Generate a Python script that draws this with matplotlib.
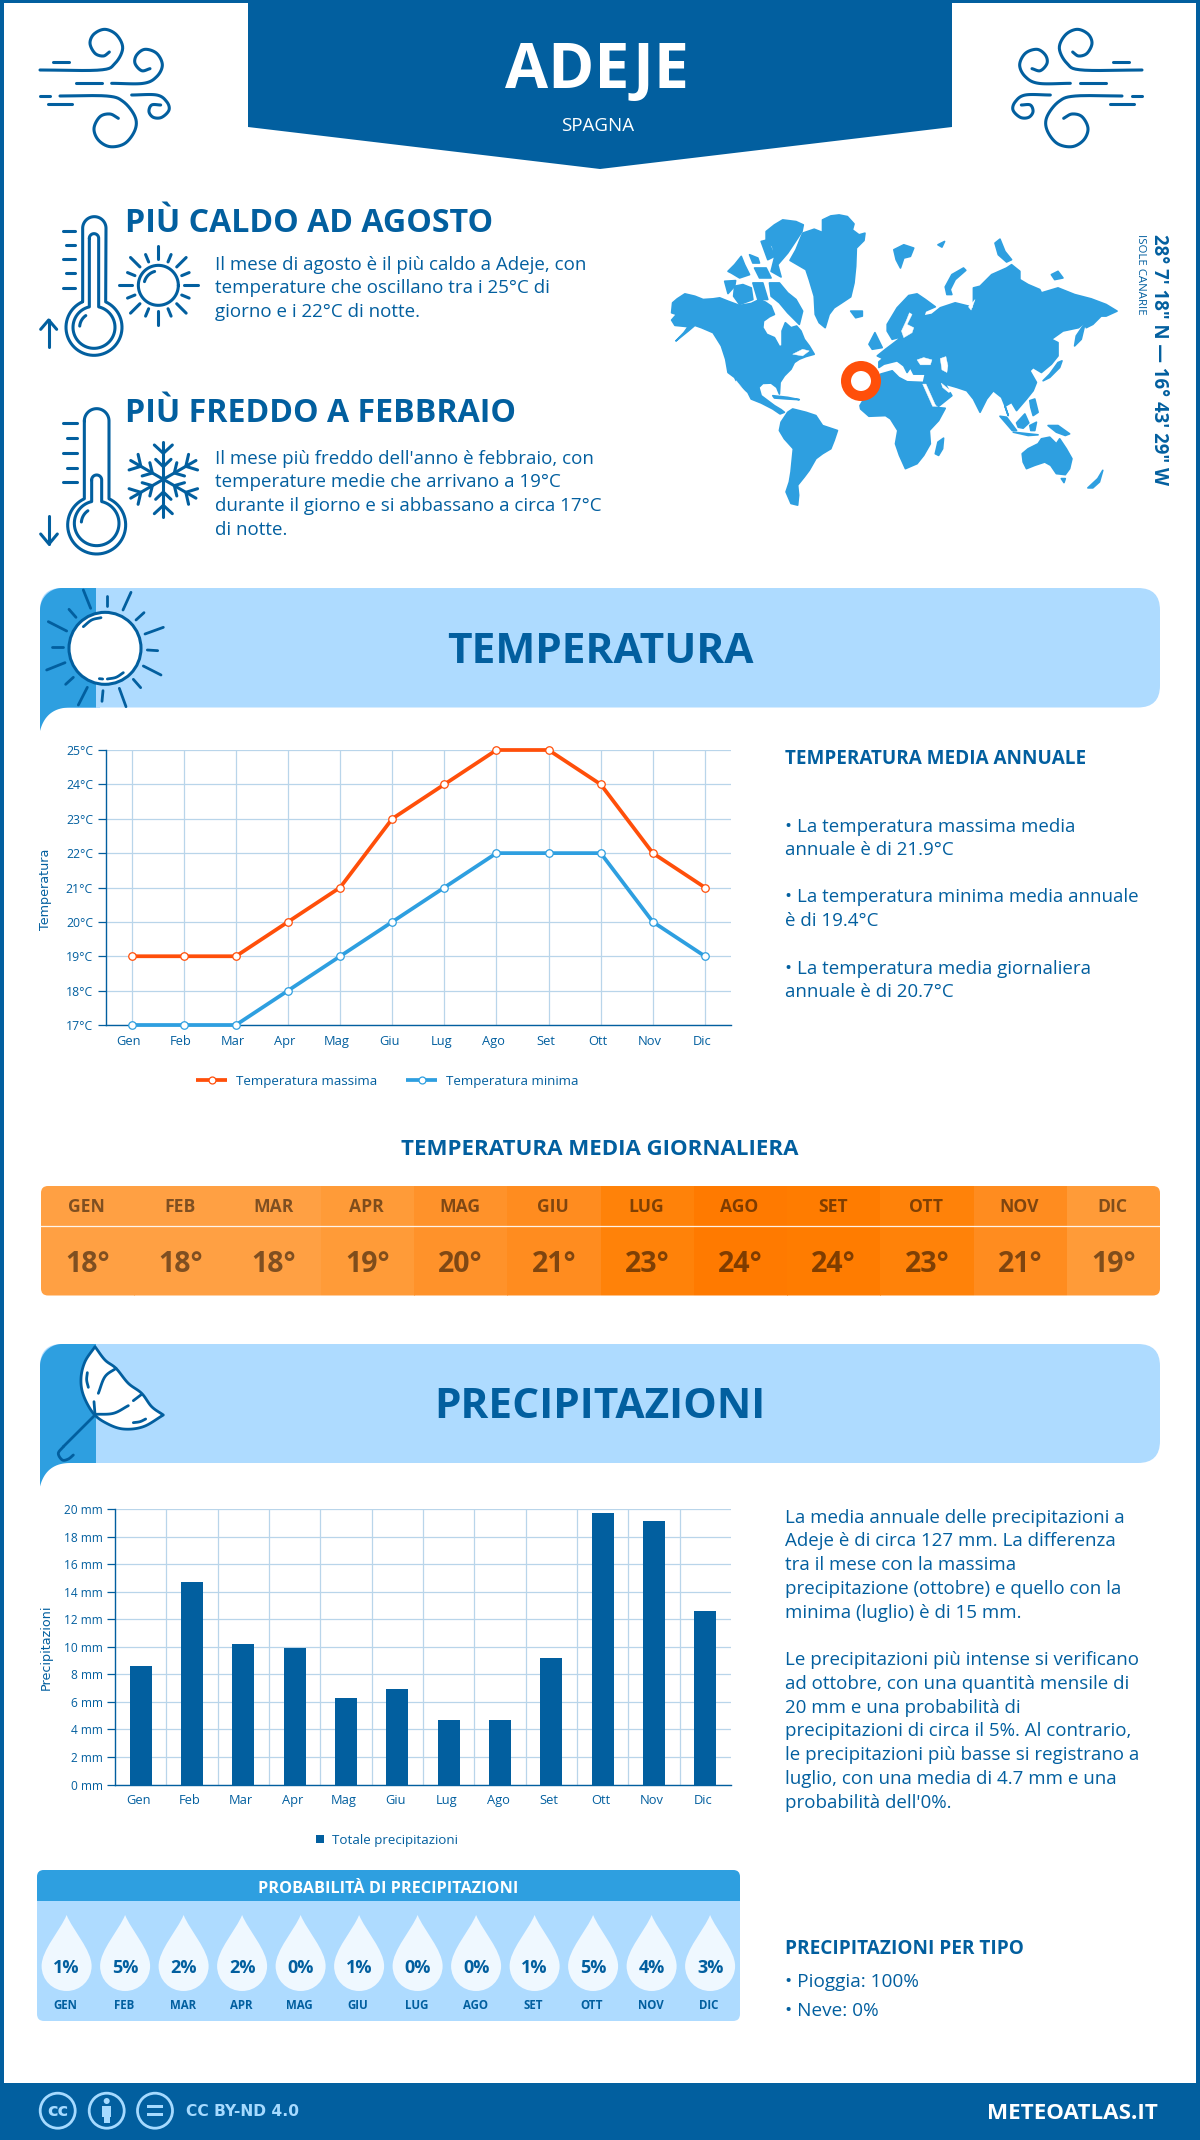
import numpy as np
import matplotlib
matplotlib.use("Agg")
import matplotlib.pyplot as plt
from matplotlib.patches import Polygon, Circle, Rectangle, FancyBboxPatch, PathPatch
from matplotlib.path import Path
from matplotlib.transforms import ScaledTranslation

plt.rcParams['font.family'] = ['Open Sans', 'DejaVu Sans']

# ---------- data ----------
months_short = ['Gen','Feb','Mar','Apr','Mag','Giu','Lug','Ago','Set','Ott','Nov','Dic']
months_upper = ['GEN','FEB','MAR','APR','MAG','GIU','LUG','AGO','SET','OTT','NOV','DIC']
temp_max = [19,19,19,20,21,23,24,25,25,24,22,21]
temp_min = [17,17,17,18,19,20,21,22,22,22,20,19]
temp_ticks = [17,18,19,20,21,22,23,24,25]
temp_daily = [18,18,18,19,20,21,23,24,24,23,21,19]
temp_colors = ['#FFA043','#FFA043','#FFA043','#FF9B38','#FF922A','#FF8C1F','#FF8209','#FF7A00','#FF7C00','#FF8209','#FF8C1F','#FF9B38']
precip = [8.6,14.7,10.2,9.9,6.3,6.9,4.7,4.7,9.2,19.7,19.1,12.6]
precip_ticks = [0,2,4,6,8,10,12,14,16,18,20]
prob = [1,5,2,2,0,1,0,0,1,5,4,3]

BLUE = '#025F9F'
MID = '#2E9FE0'
LIGHT = '#AEDBFF'
RED = '#FF4F0A'
GRID = '#B9D5EA'

W, H = 1200, 2140
fig = plt.figure(figsize=(W/100, H/100), dpi=100, facecolor='white')
bg = fig.add_axes([0, 0, 1, 1], zorder=0)
bg.set_xlim(0, W); bg.set_ylim(H, 0); bg.axis('off')


def T(x, yc, s, size, weight='normal', color=BLUE, ha='left', rotation=0, family=None, alpha=None):
    base = yc + 0.357 * size / 0.72
    kw = {}
    if family:
        kw['family'] = family
    return bg.text(x, base, s, fontsize=size, fontweight=weight, color=color, ha=ha, va='baseline',
                   rotation=rotation, alpha=alpha, **kw)


def spline(pts, n=14):
    p = np.array(pts, float)
    if len(p) < 3:
        return p
    q = np.vstack([2*p[0]-p[1], p, 2*p[-1]-p[-2]])
    out = []
    for i in range(1, len(q)-2):
        for t in np.linspace(0, 1, n, endpoint=False):
            a, b, c, d = q[i-1], q[i], q[i+1], q[i+2]
            out.append(0.5*((2*b)+(-a+c)*t+(2*a-5*b+4*c-d)*t*t+(-a+3*b-3*c+d)*t**3))
    out.append(p[-1])
    return np.array(out)


def stroke(pts, ox=0, oy=0, s=1/3, lw=2.2, color=BLUE, smooth=False, mirror=None, zorder=5):
    p = spline(pts) if smooth else np.array(pts, float)
    x = ox + p[:, 0]*s
    y = oy + p[:, 1]*s
    if mirror is not None:
        x = mirror - x
    bg.plot(x, y, color=color, lw=lw, solid_capstyle='round', solid_joinstyle='round', zorder=zorder)


def arc(cx, cy, r, a0, a1, n=60):
    a = np.radians(np.linspace(a0, a1, n))
    return np.c_[cx + r*np.cos(a), cy - r*np.sin(a)]


# ---------- frame and header ----------
bg.add_patch(Rectangle((0, 0), 4, H, color=BLUE, lw=0))
bg.add_patch(Rectangle((W-4, 0), 4, H, color=BLUE, lw=0))
bg.add_patch(Rectangle((0, 0), W, 3, color=BLUE, lw=0))
bg.add_patch(Polygon([(248, 0), (952, 0), (952, 127), (600, 169), (248, 127)], color=BLUE, lw=0))
T(597, 66, 'ADEJE', 45, 'bold', 'white', 'center')
T(598, 124, 'SPAGNA', 13.5, 'normal', 'white', 'center')

wind = [
    ([(60,180),(240,180),(285,160),(308,115),(290,75),(255,58),(222,72),(210,100),(225,130),(250,138),(268,126)], True),
    ([(98,155),(148,155)], False),
    ([(168,220),(245,220)], False),
    ([(275,220),(370,220),(410,200),(427,165),(410,130),(375,118),(350,135),(345,160),(365,182),(390,176)], True),
    ([(60,258),(90,258)], False),
    ([(120,258),(260,258),(310,275),(345,320),(345,360),(315,400),(270,410),(235,390),(222,355),(240,320),(270,312),(295,325)], True),
    ([(85,283),(155,283)], False),
    ([(335,255),(410,255),(440,275),(447,300),(425,322),(400,322),(387,305),(395,285),(422,285)], True),
]
for pts, sm in wind:
    stroke(pts, 20, 10, smooth=sm)
    stroke(pts, 20, 10, smooth=sm, mirror=1182)

# ---------- thermometer hot ----------
ox, oy = 20, 200
a = np.degrees(np.arcsin(35/84))
outer = np.vstack([[(188,305)], arc(223,85,35,180,0), arc(222,382,84,90-a,-270+a)])
stroke(outer, ox, oy)
a = np.degrees(np.arcsin(14/63))
inner = np.vstack([arc(222,115,14,180,0), arc(222,382,63,90-a,-270+a), [(208,115)]])
stroke(inner, ox, oy)
stroke(arc(222,382,43,175,125), ox, oy)
for y0, x0 in [(93,128),(136,138),(178,128),(220,138),(263,128)]:
    stroke([(x0,y0),(165,y0)], ox, oy)
stroke([(86,440),(86,360)], ox, oy)
stroke([(62,388),(86,360),(110,388)], ox, oy)
stroke(arc(415,256,60,0,360), ox, oy)
stroke(arc(415,256,43,165,105), ox, oy)
for i in range(16):
    an = np.radians(i*22.5)
    r0, r1 = (78, 118) if i % 2 == 0 else (76, 100)
    stroke([(415+r0*np.cos(an),256+r0*np.sin(an)),(415+r1*np.cos(an),256+r1*np.sin(an))], ox, oy)

# ---------- thermometer cold ----------
ox, oy = 20, 390
a = np.degrees(np.arcsin(37/87))
outer = np.vstack([arc(230,93,37,180,0), arc(230,405,87,90-a,-270+a), [(193,93)]])
stroke(outer, ox, oy)
a = np.degrees(np.arcsin(15/67))
inner = np.vstack([arc(230,270,15,180,0), arc(230,400,67,90-a,-270+a), [(215,270)]])
stroke(inner, ox, oy)
stroke(arc(230,400,46,175,125), ox, oy)
for y0, x0 in [(100,130),(145,140),(188,130),(233,140),(277,130)]:
    stroke([(x0,y0),(170,y0)], ox, oy)
stroke([(87,378),(87,462)], ox, oy)
stroke([(62,432),(87,462),(112,432)], ox, oy)
cx, cy = 430, 268
for k in range(6):
    an = np.radians(90 + k*60)
    u = np.array([np.cos(an), -np.sin(an)])
    v = np.array([-u[1], u[0]])
    c = np.array([cx, cy])
    stroke([c, c+113*u], ox, oy)
    for base, rad, lat in [(78, 25, 27), (38, 22, 23)]:
        b = c + base*u
        stroke([b+rad*u+lat*v, b, b+rad*u-lat*v], ox, oy)

# ---------- intro text ----------
T(125, 221, 'PIÙ CALDO AD AGOSTO', 23.1, 'bold')
for y, s in zip([263, 286, 310], ['Il mese di agosto è il più caldo a Adeje, con',
                                  'temperature che oscillano tra i 25°C di',
                                  'giorno e i 22°C di notte.']):
    T(215, y, s, 13.5)
T(125, 411, 'PIÙ FREDDO A FEBBRAIO', 23.1, 'bold')
for y, s in zip([457, 480, 504, 528], ["Il mese più freddo dell'anno è febbraio, con",
                                       'temperature medie che arrivano a 19°C',
                                       'durante il giorno e si abbassano a circa 17°C',
                                       'di notte.']):
    T(215, y, s, 13.5)

# ---------- world map (decorative outline) ----------
land = [
 [(38,310),(52,298),(75,283),(105,290),(130,300),(160,298),(180,295),(205,305),(240,318),(275,312),(300,300),(318,308),(335,320),(345,345),(330,352),(312,365),(310,385),(322,405),(345,415),(360,442),(368,440),(368,395),(378,370),(395,385),(412,380),(425,395),(435,420),(450,440),(465,465),(440,472),(420,480),(405,490),(395,510),(375,530),(362,550),(360,585),(352,565),(335,552),(310,553),(298,565),(305,590),(325,605),(345,620),(365,632),(375,640),(362,645),(340,630),(305,612),(275,600),(265,580),(235,555),(225,535),(205,520),(198,480),(185,440),(160,400),(125,385),(105,378),(85,395),(48,425),(72,400),(85,382),(45,378),(35,362),(50,345),(35,340)],
 [(490,60),(515,48),(540,45),(565,50),(585,72),(580,90),(600,105),(618,100),(615,122),(592,145),(590,200),(585,250),(575,292),(545,312),(525,325),(510,345),(498,385),(480,370),(468,345),(465,290),(450,240),(440,210),(392,182),(410,150),(430,100),(465,88),(490,98)],
 [(320,95),(345,75),(370,60),(410,65),(432,75),(428,95),(405,130),(385,160),(355,195),(365,232),(335,215),(345,175),(340,140),(320,122)],
 [(305,125),(325,120),(345,170),(325,180)],
 [(205,215),(225,195),(245,170),(255,195),(270,225),(240,235),(215,220)],
 [(195,245),(228,243),(225,260),(205,282)],
 [(225,260),(250,255),(275,265),(280,300),(240,315),(222,290)],
 [(280,250),(310,250),(325,300),(295,300)],
 [(330,250),(360,250),(385,280),(410,300),(430,335),(420,375),(385,340),(360,310),(335,290)],
 [(285,205),(320,205),(335,235),(300,235)],
 [(270,165),(295,175),(300,190),(280,190)],
 [(340,590),(385,595),(420,602),(385,600),(345,597)],
 [(365,670),(385,640),(400,630),(440,640),(470,650),(490,680),(535,695),(525,725),(515,750),(490,765),(470,780),(450,815),(435,835),(415,860),(418,890),(415,920),(395,915),(380,880),(390,850),(395,820),(402,750),(375,720),(360,695)],
 [(603,620),(615,600),(635,585),(650,560),(665,525),(700,515),(720,535),(745,548),(795,550),(805,575),(830,625),(860,628),(840,665),(812,695),(815,735),(795,770),(775,795),(740,810),(722,770),(710,735),(717,695),(695,660),(680,650),(630,652),(605,630)],
 [(855,718),(852,750),(840,770),(830,765),(838,730)],
 [(660,488),(672,478),(655,470),(680,450),(700,435),(730,412),(700,420),(685,395),(685,375),(715,325),(750,288),(775,283),(800,300),(830,322),(800,335),(795,350),(820,345),(845,325),(890,310),(930,320),(945,330),(945,265),(965,260),(985,240),(1000,225),(1045,205),(1060,195),(1085,215),(1085,240),(1110,255),(1145,270),(1150,280),(1200,265),(1250,285),(1300,298),(1345,315),(1378,335),(1345,350),(1330,350),(1305,375),(1285,385),(1280,370),(1262,385),(1215,395),(1180,420),(1200,430),(1200,470),(1180,495),(1150,520),(1125,505),(1115,515),(1135,550),(1125,575),(1105,600),(1075,635),(1060,610),(1040,622),(1050,650),(1040,620),(1030,595),(1005,575),(985,600),(965,640),(945,600),(925,575),(895,565),(860,555),(880,590),(840,622),(825,610),(800,565),(795,547),(800,525),(765,525),(755,505),(745,520),(735,500),(715,485),(695,490),(675,495),(660,505)],
 [(575,335),(610,335),(610,350),(590,355)],
 [(630,435),(648,400),(670,445),(640,450)],
 [(1092,765),(1110,750),(1140,735),(1150,720),(1175,715),(1195,735),(1205,720),(1225,750),(1242,780),(1235,810),(1222,828),(1195,825),(1178,800),(1160,790),(1130,800),(1105,810),(1095,790)],
 [(1170,680),(1200,680),(1235,705),(1222,710),(1195,700)],
 [(1075,672),(1100,645),(1112,672),(1095,688),(1080,685)],
 [(1115,680),(1135,670),(1130,695),(1118,695)],
 [(1025,652),(1045,655),(1075,695),(1062,695)],
 [(1065,700),(1140,708),(1110,710)],
 [(1115,605),(1130,600),(1140,640),(1125,650),(1118,625)],
 [(865,285),(860,262),(880,225),(915,205),(922,212),(890,240),(875,270),(880,285)],
 [(705,150),(735,135),(765,145),(755,170),(735,175),(725,205),(712,180)],
 [(1010,130),(1025,118),(1040,155),(1060,180),(1045,187),(1020,165)],
 [(1155,545),(1175,525),(1200,490),(1212,485),(1205,505),(1175,535)],
 [(1250,440),(1255,410),(1282,370),(1270,420)],
 [(1180,225),(1200,215),(1215,235),(1190,240)],
 [(1290,868),(1320,840),(1335,815),(1325,850),(1305,868)],
 [(1210,840),(1222,840),(1218,852)],
 [(838,135),(858,125),(850,142)],
]
water = [
 [(752,340),(760,345),(745,375),(765,385),(760,400),(735,415),(728,395),(742,365)],
 [(775,482),(795,475),(820,482),(815,497),(785,497)],
 [(845,478),(862,472),(868,500),(865,520),(850,512)],
 [(792,555),(802,555),(832,622),(822,622)],
 [(848,552),(870,570),(888,575),(870,580),(852,565)],
 [(400,465),(430,450),(450,455),(430,470)],
 [(230,545),(262,585),(255,585),(225,550)],
 [(950,300),(938,332),(930,322)],
]
mapx = lambda p: [(660+q[0]/3.015, 200+q[1]/3.015) for q in p]
for p in land:
    bg.add_patch(Polygon(mapx(p), closed=True, fc=MID, ec=MID, lw=1.2, joinstyle='round', zorder=2))
for p in water:
    bg.add_patch(Polygon(mapx(p), closed=True, fc='white', ec='white', lw=0.3, zorder=3))
bg.add_patch(Circle((861, 381), 15, fc='white', ec=RED, lw=7.2, zorder=4))
bg.text(1159, 234, '28° 7\' 18" N — 16° 43\' 29" W', fontsize=13.4, fontweight='bold', color=BLUE,
        rotation=-90, ha='center', va='top')
bg.text(1140, 234, 'ISOLE CANARIE', fontsize=8.2, color=BLUE, rotation=-90, ha='center', va='top')


# ---------- section banners ----------
def banner(y0, y1, title, tc):
    bg.add_patch(FancyBboxPatch((40, y0), 1120, y1-y0, boxstyle='round,pad=0,rounding_size=22',
                                fc=LIGHT, ec='none', zorder=1))
    bg.add_patch(Rectangle((40, y1-30), 60, 30, fc=LIGHT, lw=0, zorder=1))
    top = arc(62, y0+22, 22, 180, 90, 20)
    low = []
    for t in np.linspace(0, 1, 20):
        low.append(((1-t)**2*70+2*t*(1-t)*46+t*t*40, (1-t)**2*y1+2*t*(1-t)*y1+t*t*(y1+23.5)))
    bg.add_patch(Polygon(np.vstack([top, [(96, y0), (96, y1)], low]), closed=True, fc=MID, ec='none', zorder=2))
    T(600, tc, title, 30.5, 'bold', BLUE, 'center')


banner(588, 707.5, 'TEMPERATURA', 648)
banner(1344, 1463, 'PRECIPITAZIONI', 1403)

# banner sun
ox, oy = 30, 580
bg.add_patch(Circle((ox+225/3, oy+205/3), 36, fc='white', ec=BLUE, lw=2.2, zorder=5))
rays = [((160,30),(182,85)),((230,47),(230,78)),((303,37),(279,90)),((342,98),(318,120)),((400,142),(345,162)),
        ((383,212),(352,210)),((393,285),(340,258)),((332,323),(310,298)),((268,325),(288,380)),((219,332),(216,364)),
        ((172,322),(145,375)),((130,292),(107,313)),((105,248),(50,270)),((98,200),(66,200)),((110,153),(55,125)),((138,112),(117,88))]
for r0, r1 in rays:
    stroke([r0, r1], ox, oy, lw=2)
stroke([(160,140),(185,120),(213,113)], ox, oy, smooth=True, lw=2, zorder=6)
stroke([(232,297),(258,292),(280,278)], ox, oy, smooth=True, lw=2, zorder=6)
stroke([(208,296),(218,297)], ox, oy, lw=2, zorder=6)

# banner umbrella
ox, oy = 30, 1335
umb = [(195,35),(165,80),(153,130),(160,180),(190,235),(230,265),(280,282),(340,275),(400,240)]
umb2 = [(400,240),(365,215),(335,175),(295,145),(258,100),(225,75),(195,35)]
shape = np.vstack([spline(umb), spline(umb2)])
bg.add_patch(Polygon(np.c_[ox+shape[:,0]/3, oy+shape[:,1]/3], closed=True, fc='white', ec=BLUE, lw=2, joinstyle='round', zorder=5))
for pts in [[(258,100),(225,125),(205,175)],[(192,200),(195,238)],[(195,238),(250,235),(295,212)],[(310,197),(335,178)],
            [(172,113),(170,135),(175,157)],[(310,263),(330,260),(347,252)]]:
    stroke(pts, ox, oy, smooth=len(pts) > 2, lw=2, zorder=6)
stroke([(195,240),(100,335)], ox, oy, lw=2, zorder=6)
stroke([(100,335),(85,355),(97,375),(115,372),(130,360)], ox, oy, smooth=True, lw=2, zorder=6)


def pixel_axes(x0, y0, x1, y1):
    return fig.add_axes([x0/W, 1-y1/H, (x1-x0)/W, (y1-y0)/H], zorder=3)


# ---------- temperature chart ----------
ax = pixel_axes(105.6, 750, 731, 1025)
ax.patch.set_alpha(0)
xs = np.arange(12)
ax.plot(xs, temp_max, color=RED, lw=2.7, marker='o', ms=5.4, mfc='white', mec=RED, mew=0.9, clip_on=False, label='Temperatura massima', zorder=4)
ax.plot(xs, temp_min, color=MID, lw=2.7, marker='o', ms=5.4, mfc='white', mec=MID, mew=0.9, clip_on=False, label='Temperatura minima', zorder=4)
ax.set_xlim(-0.5, 11.5); ax.set_ylim(17, 25)
ax.set_xticks(xs, months_short, fontsize=9.3, color=BLUE)
ax.set_yticks(temp_ticks, [f'{v}°C' for v in temp_ticks], fontsize=8.8, color=BLUE)
ax.grid(True, color=GRID, lw=0.9); ax.set_axisbelow(True)
ax.tick_params(axis='x', length=0, pad=7)
ax.tick_params(axis='y', length=6, width=0.9, color=BLUE, pad=3)
for s in ['top', 'right']:
    ax.spines[s].set_visible(False)
for s in ['left', 'bottom']:
    ax.spines[s].set_color(BLUE); ax.spines[s].set_linewidth(1)
off = ScaledTranslation(-3/100, 0, fig.dpi_scale_trans)
for l in ax.get_xticklabels():
    l.set_transform(l.get_transform() + off)
bg.text(46, 889, 'Temperatura', fontsize=9.2, color=BLUE, rotation=90, ha='center', va='center', family='DejaVu Sans', zorder=6)
for x0, c, lab in [(196, RED, 'Temperatura massima'), (406, MID, 'Temperatura minima')]:
    bg.plot([x0, x0+31], [1080, 1080], color=c, lw=2.7, solid_capstyle='butt', marker=None)
    bg.plot([x0+15.5], [1080], marker='o', ms=5, mfc='white', mec=c, mew=0.9)
    T(x0+40, 1080, lab, 9.6)

T(785, 757, 'TEMPERATURA MEDIA ANNUALE', 13.6, 'bold')
for y, s in zip([825, 848, 895.5, 919, 967, 990.5],
                ['• La temperatura massima media', 'annuale è di 21.9°C', '• La temperatura minima media annuale',
                 'è di 19.4°C', '• La temperatura media giornaliera', 'annuale è di 20.7°C']):
    T(785, y, s, 13.5)

T(600, 1147, 'TEMPERATURA MEDIA GIORNALIERA', 16, 'bold', BLUE, 'center')

# ---------- daily temperature table ----------
x0, x1, y0, y1 = 41, 1160, 1186, 1295.5
cw = (x1-x0)/12
clip = FancyBboxPatch((x0, y0), x1-x0, y1-y0, boxstyle='round,pad=0,rounding_size=7', fc='none', ec='none', transform=bg.transData)
bg.add_patch(clip)
for i in range(12):
    r = Rectangle((x0+i*cw, y0), cw+0.5, y1-y0, fc=temp_colors[i], lw=0, zorder=2)
    bg.add_patch(r); r.set_clip_path(clip)
    cx = x0 + (i+0.5)*cw
    T(cx-1, 1206, months_upper[i], 12.6, 'bold', 'black', 'center', alpha=0.5).set_zorder(4)
    T(cx, 1261.5, f'{temp_daily[i]}°', 20.5, 'bold', 'black', 'center', alpha=0.5).set_zorder(4)
bg.plot([x0, x1], [1225.7, 1225.7], color='white', lw=0.9, alpha=0.9, zorder=3)

# ---------- precipitation chart ----------
ax2 = pixel_axes(115, 1509, 731, 1784.5)
ax2.patch.set_alpha(0)
ax2.bar(xs, precip, width=0.43, color=BLUE, zorder=3, label='Totale precipitazioni')
ax2.set_xlim(-0.5, 11.5); ax2.set_ylim(0, 20)
ax2.set_xticks(xs, months_short, fontsize=9.3, color=BLUE)
ax2.set_yticks(precip_ticks, [f'{v} mm' for v in precip_ticks], fontsize=8.6, color=BLUE)
ax2.set_xticks(xs[:-1]+0.5, minor=True)
ax2.grid(True, axis='y', color=GRID, lw=0.9)
ax2.grid(True, axis='x', which='minor', color=GRID, lw=0.9)
ax2.set_axisbelow(True)
ax2.tick_params(axis='x', which='both', length=0, pad=7)
ax2.tick_params(axis='y', length=6, width=0.9, color=BLUE, pad=3)
for s in ['top', 'right']:
    ax2.spines[s].set_visible(False)
for s in ['left', 'bottom']:
    ax2.spines[s].set_color(BLUE); ax2.spines[s].set_linewidth(1)
off2 = ScaledTranslation(-2/100, 0, fig.dpi_scale_trans)
for l in ax2.get_xticklabels():
    l.set_transform(l.get_transform() + off2)
bg.text(46, 1647, 'Precipitazioni', fontsize=9.2, color=BLUE, rotation=90, ha='center', va='center', family='DejaVu Sans')
bg.add_patch(Rectangle((316, 1835), 8, 8, fc=BLUE, lw=0))
T(332, 1839, 'Totale precipitazioni', 9.6)

para = [(1516.5, 'La media annuale delle precipitazioni a'), (1539, 'Adeje è di circa 127 mm. La differenza'),
        (1563.5, 'tra il mese con la massima'), (1587, 'precipitazione (ottobre) e quello con la'),
        (1611.5, 'minima (luglio) è di 15 mm.'), (1658.5, 'Le precipitazioni più intense si verificano'),
        (1682, 'ad ottobre, con una quantità mensile di'), (1706, '20 mm e una probabilità di'),
        (1729, 'precipitazioni di circa il 5%. Al contrario,'), (1753, 'le precipitazioni più basse si registrano a'),
        (1777, 'luglio, con una media di 4.7 mm e una'), (1801, "probabilità dell'0%.")]
for y, s in para:
    T(785, y, s, 13.5)

# ---------- probability panel ----------
bg.add_patch(FancyBboxPatch((37, 1870), 703, 151, boxstyle='round,pad=0,rounding_size=7', fc=LIGHT, ec='none', zorder=1))
pclip = FancyBboxPatch((37, 1870), 703, 151, boxstyle='round,pad=0,rounding_size=7', fc='none', ec='none')
bg.add_patch(pclip)
hdr = Rectangle((37, 1870), 703, 31, fc=MID, lw=0, zorder=2)
bg.add_patch(hdr); hdr.set_clip_path(pclip)
T(388, 1887, 'PROBABILITÀ DI PRECIPITAZIONI', 11.7, 'bold', 'white', 'center').set_zorder(3)
for i, v in enumerate(prob):
    cx = 66.6 + i*58.5
    verts = [(cx, 1915), (cx+6, 1930), (cx+25, 1950), (cx+25, 1966),
             (cx+25, 1980), (cx+14, 1991), (cx, 1991),
             (cx-14, 1991), (cx-25, 1980), (cx-25, 1966),
             (cx-25, 1950), (cx-6, 1930), (cx, 1915)]
    codes = [Path.MOVETO] + [Path.CURVE4]*12
    bg.add_patch(PathPatch(Path(verts, codes), fc='#EFF8FF', ec='none', zorder=3))
    T(cx, 1967, f'{v}%', 13, 'bold', BLUE, 'center').set_zorder(4)
    T(cx-1, 2005, months_upper[i], 8.3, 'bold', BLUE, 'center').set_zorder(4)

T(785, 1947, 'PRECIPITAZIONI PER TIPO', 13.7, 'bold')
T(785, 1980, '• Pioggia: 100%', 13.7)
T(785, 2009, '• Neve: 0%', 13.7)

# ---------- footer ----------
bg.add_patch(Rectangle((0, 2083), W, 57, color=BLUE, lw=0, zorder=1))
FC = '#A6DAFF'
for cx in [57.7, 106.7, 155]:
    bg.add_patch(Circle((cx, 2110.7), 17.5, fc='none', ec=FC, lw=2, zorder=3))
bg.text(57.7, 2110.7, 'cc', fontsize=13, fontweight='bold', color=FC, ha='center', va='center', family='DejaVu Sans', zorder=3)
bg.add_patch(Circle((106.7, 2101), 3, fc=FC, ec='none', zorder=3))
bg.add_patch(Rectangle((102.2, 2105.5), 9, 11, fc=FC, lw=0, zorder=3))
bg.add_patch(Rectangle((103.8, 2116), 5.8, 7, fc=FC, lw=0, zorder=3))
bg.add_patch(Rectangle((147, 2104.5), 16, 3.5, fc=FC, lw=0, zorder=3))
bg.add_patch(Rectangle((147, 2112.5), 16, 3.5, fc=FC, lw=0, zorder=3))
bg.text(186, 2112, 'CC BY-ND 4.0', fontsize=11.2, fontweight='bold', color=FC, ha='left', va='center', family='DejaVu Sans', zorder=3)
T(1158, 2111.5, 'METEOATLAS.IT', 16.1, 'bold', 'white', 'right').set_zorder(3)

fig.savefig('out.png', dpi=100)
